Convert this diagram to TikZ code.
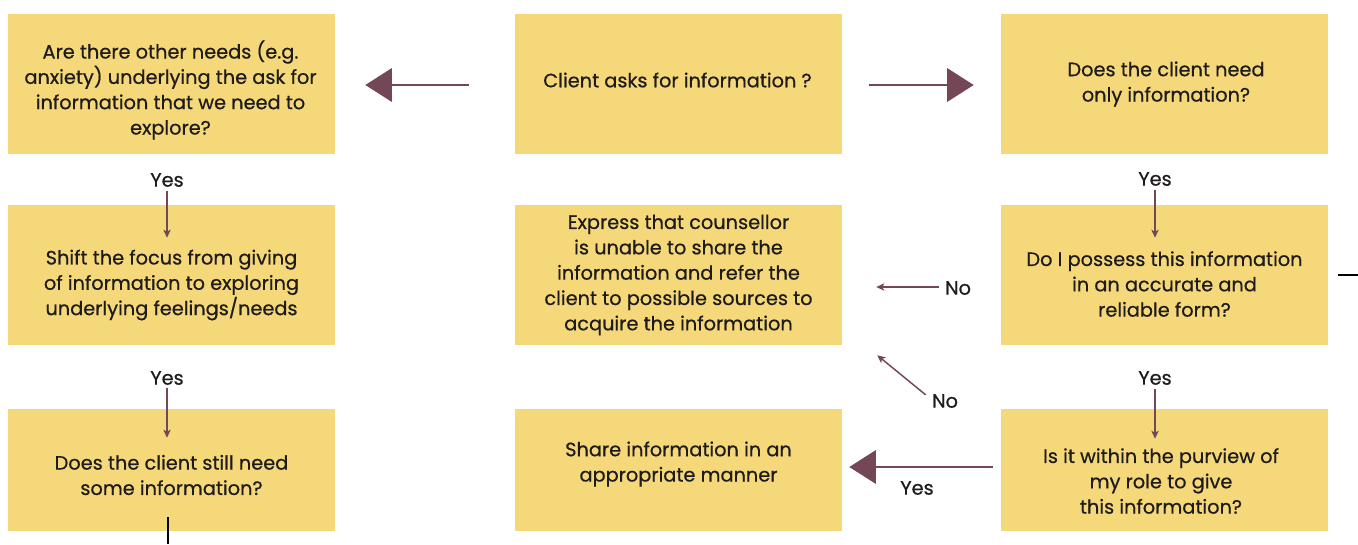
\documentclass[tikz,border=0pt]{standalone}
\usepackage{fontspec}
\setmainfont{Poppins}[FakeBold=0.6]
\usepackage{tikz}
\usetikzlibrary{arrows.meta, calc}
\definecolor{boxcolor}{RGB}{245, 216, 122}
\definecolor{arrowcolor}{RGB}{116, 71, 86}
\definecolor{textcolor}{RGB}{30, 27, 28}

\begin{document}
\begin{tikzpicture}[x=0.75pt, y=-0.75pt,
    box/.style={fill=boxcolor, minimum width=245.25pt, minimum height=105pt, inner sep=0pt},
    boxtext/.style={align=center, font=\fontsize{14.5}{19}\selectfont, text=textcolor, inner sep=0pt},
    answer/.style={font=\fontsize{14.5}{19}\selectfont, text=textcolor, inner sep=0pt},
    bigarrow/.style={arrowcolor, line width=2pt, -{Triangle[length=20pt, width=25pt]}},
    smallarrow/.style={arrowcolor, line width=1.1pt, -{Stealth[length=6pt, width=5.5pt, inset=1.5pt]}}]
    \useasboundingbox (0,0) rectangle (1358,544);

    % Top row
    \node[box] (other) at (171.5, 84) {};
    \node[boxtext] (othertext) at (170.5, 90) {Are there other needs (e.g.\\anxiety) underlying the ask for\\information that we need to\\explore?};
    \node[box] (ask) at (678.5, 84) {};
    \node[boxtext] (asktext) at (677.5, 80) {Client asks for information ?};
    \node[box] (only) at (1164.5, 84) {};
    \node[boxtext] (onlytext) at (1166, 84) {Does the client need\\only information?};

    % Middle row
    \node[box] (shift) at (171.5, 275) {};
    \node[boxtext] (shifttext) at (171.5, 285) {Shift the focus from giving\\of information to exploring\\underlying feelings/needs};
    \node[box] (express) at (678.5, 275) {};
    \node[boxtext] (expresstext) at (678.5, 275) {Express that counsellor\\is unable to share the\\information and refer the\\client to possible sources to\\acquire the information};
    \node[box] (possess) at (1164.5, 275) {};
    \node[boxtext] (possesstext) at (1164.5, 284) {Do I possess this information\\in an accurate and\\reliable form?};

    % Bottom row
    \node[box, minimum height=91.5pt] (still) at (171.5, 470) {};
    \node[boxtext] (stilltext) at (171.5, 475) {Does the client still need\\some information?};
    \node[box, minimum height=91.5pt] (share) at (678.5, 470) {};
    \node[boxtext] (sharetext) at (678.5, 464) {Share information in an\\appropriate manner};
    \node[box, minimum height=91.5pt] (role) at (1164.5, 470) {};
    \node[boxtext] (roletext) at (1161, 481) {Is it within the purview of\\my role to give\\this information?};

    % Answers
    \node[answer] (yes1) at (167, 180) {Yes};
    \node[answer] (yes2) at (167, 378) {Yes};
    \node[answer] (yes3) at (1155, 179) {Yes};
    \node[answer] (yes4) at (1155, 378) {Yes};
    \node[answer] (yes5) at (917, 488) {Yes};
    \node[answer] (no1) at (958, 288) {No};
    \node[answer] (no2) at (945, 401) {No};

    % Big arrows
    \draw[bigarrow] ($(ask.west)+(-46,1)$) -- ($(other.east)+(30,1)$);
    \draw[bigarrow] ($(ask.east)+(27,1)$) -- ($(only.west)+(-27,1)$);
    \draw[bigarrow] ($(role.west)+(-8,-3)$) -- ($(share.east)+(7,-3)$);

    % Small arrows
    \draw[smallarrow] ($(yes1.south)+(0,4)$) -- ($(yes1.south |- shift.north)+(0,33)$);
    \draw[smallarrow] ($(yes2.south)+(0,3)$) -- ($(yes2.south |- still.north)+(0,29)$);
    \draw[smallarrow] ($(yes3.south)+(0,4)$) -- ($(yes3.south |- possess.north)+(0,33)$);
    \draw[smallarrow] ($(yes4.south)+(0,4)$) -- ($(yes4.south |- role.north)+(0,30)$);
    \draw[smallarrow] ($(no1.west)+(-6,-1)$) -- ($(express.east |- no1.west)+(34,-1)$);
    \draw[smallarrow] ($(no2.north west)+(-6,1)$) -- ($(express.south east)+(35,10)$);

    % Lines leaving the picture
    \coordinate (stillout) at (168, 544);
    \coordinate (possessout) at (1358, 275);
    \draw[black, line width=1.5pt] ($(still.south)+(-3.5,-14)$) -- (stillout);
    \draw[black, line width=1.2pt] ($(possess.east)+(10,0)$) -- (possessout);
\end{tikzpicture}
\end{document}
